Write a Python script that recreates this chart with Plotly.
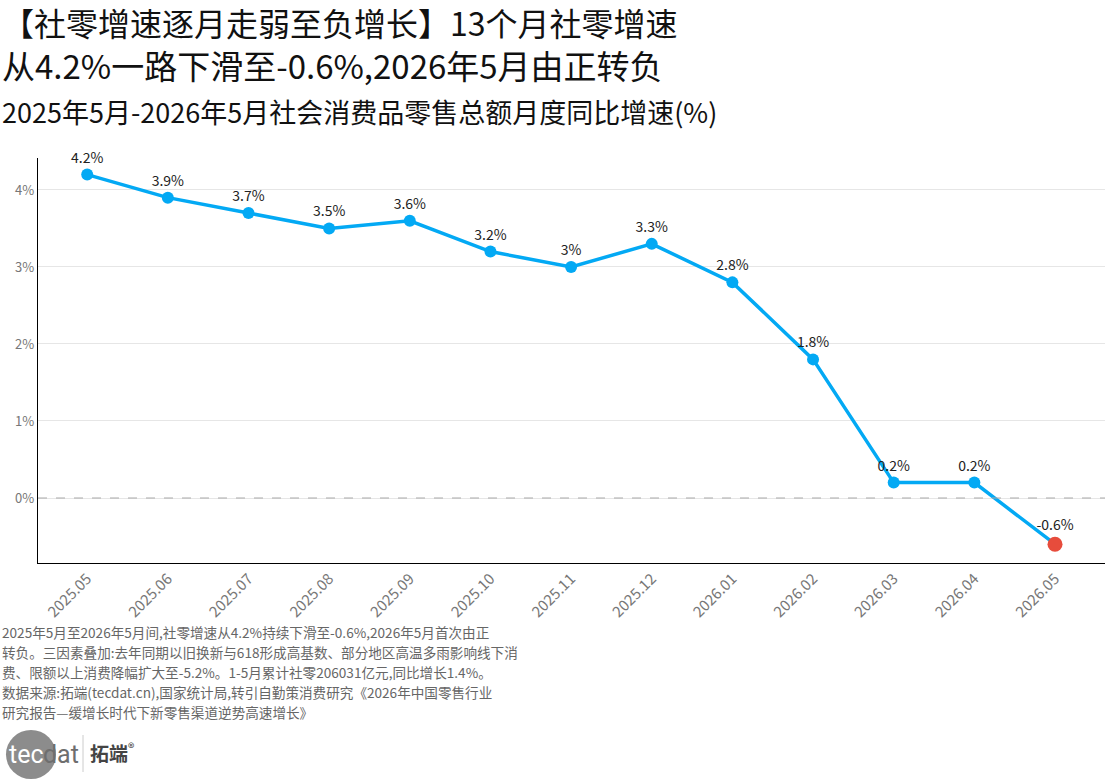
import plotly.graph_objects as go

months = ["2025.05", "2025.06", "2025.07", "2025.08", "2025.09", "2025.10", "2025.11",
          "2025.12", "2026.01", "2026.02", "2026.03", "2026.04", "2026.05"]
growth = [4.2, 3.9, 3.7, 3.5, 3.6, 3.2, 3.0, 3.3, 2.8, 1.8, 0.2, 0.2, -0.6]
point_labels = ["4.2%", "3.9%", "3.7%", "3.5%", "3.6%", "3.2%", "3%", "3.3%",
                "2.8%", "1.8%", "0.2%", "0.2%", "-0.6%"]
y_ticks = [0, 1, 2, 3, 4]
y_tick_text = ["0%", "1%", "2%", "3%", "4%"]

title_lines = ["【社零增速逐月走弱至负增长】13个月社零增速",
               "从4.2%一路下滑至-0.6%,2026年5月由正转负"]
subtitle = "2025年5月-2026年5月社会消费品零售总额月度同比增速(%)"
notes = [
    "2025年5月至2026年5月间,社零增速从4.2%持续下滑至-0.6%,2026年5月首次由正",
    "转负。三因素叠加:去年同期以旧换新与618形成高基数、部分地区高温多雨影响线下消",
    "费、限额以上消费降幅扩大至-5.2%。1-5月累计社零206031亿元,同比增长1.4%。",
    "数据来源:拓端(tecdat.cn),国家统计局,转引自勤策消费研究《2026年中国零售行业",
    "研究报告—缓增长时代下新零售渠道逆势高速增长》",
]

FONT = "Noto Sans CJK SC"
BLUE = "#03a9f4"
RED = "#e74c3c"

W, H = 1120, 784
ML, MR, MT, MB = 38, 15, 158, 784 - 563

marker_colors = [BLUE] * (len(growth) - 1) + [RED]
marker_sizes = [12] * (len(growth) - 1) + [15]

fig = go.Figure()
fig.add_trace(go.Scatter(
    x=months, y=growth, mode="lines+markers+text",
    line=dict(color=BLUE, width=3.5),
    marker=dict(color=marker_colors, size=marker_sizes, opacity=1,
                line=dict(width=0)),
    text=point_labels, textposition="top center",
    textfont=dict(family=FONT, size=14, color="#222"),
    cliponaxis=False, showlegend=False,
))

fig.add_shape(type="line", xref="paper", x0=0, x1=1, yref="y", y0=0, y1=0,
              line=dict(color="#aaaaaa", width=1.2, dash="dash"))

fig.update_layout(
    width=W, height=H,
    margin=dict(l=ML, r=MR, t=MT, b=MB),
    plot_bgcolor="white", paper_bgcolor="white",
    font=dict(family=FONT, color="#666"),
    xaxis=dict(
        range=[-0.61, 12.62], showgrid=False, showline=True, linecolor="black",
        linewidth=1.2, tickangle=-45, tickfont=dict(size=15, color="#777"),
        ticks="", automargin=False,
    ),
    yaxis=dict(
        range=[-0.844, 4.415], tickvals=y_ticks, ticktext=y_tick_text,
        showgrid=True, gridcolor="#e6e6e6", zeroline=False, showline=True,
        linecolor="black", linewidth=1.2, tickfont=dict(size=13, color="#777"),
        ticks="", automargin=False,
    ),
)


def px_x(v):
    # page pixel -> paper fraction
    return (v - ML) / (W - ML - MR)


def px_y(v):
    return (H - MB - v) / (H - MT - MB)


anns = [
    dict(text=title_lines[0], x=0, y=22, size=32, color="#111"),
    dict(text=title_lines[1], x=0, y=65, size=33, color="#111"),
    dict(text=subtitle, x=0, y=111, size=27, color="#111"),
]
for i, line in enumerate(notes):
    anns.append(dict(text=line, x=0, y=632 + i * 20, size=13.6, color="#666"))

for a in anns:
    fig.add_annotation(xref="paper", yref="paper", xanchor="left", yanchor="middle",
                       showarrow=False, text=a["text"],
                       font=dict(family=FONT, size=a["size"], color=a["color"]),
                       x=px_x(a["x"]), y=px_y(a["y"]))

# logo: grey disc, "tec" + "dat", divider, 拓端®
fig.add_shape(type="circle", xref="paper", yref="paper",
              x0=px_x(6), x1=px_x(56), y0=px_y(779), y1=px_y(730),
              fillcolor="#8c8c8c", line=dict(width=0), layer="below")
fig.add_annotation(xref="paper", yref="paper", xanchor="left", yanchor="middle",
                   showarrow=False, text="tec", x=px_x(7), y=px_y(754),
                   font=dict(family="Roboto", size=25, color="white"))
fig.add_annotation(xref="paper", yref="paper", xanchor="left", yanchor="middle",
                   showarrow=False, text="dat", x=px_x(41), y=px_y(754),
                   font=dict(family="Roboto", size=25, color="#6e6e6e"))
fig.add_shape(type="line", xref="paper", yref="paper",
              x0=px_x(83), x1=px_x(83), y0=px_y(772), y1=px_y(735),
              line=dict(color="#cccccc", width=1))
fig.add_annotation(xref="paper", yref="paper", xanchor="left", yanchor="middle",
                   showarrow=False, text="<b>拓端</b><sup>®</sup>", x=px_x(88), y=px_y(752),
                   font=dict(family=FONT, size=19, color="#444"))

# drop the browser's default body margin so the figure sits at the page corner
fig.write_html("out.html", config={"displayModeBar": False},
               post_script="document.body.style.margin='0';")
